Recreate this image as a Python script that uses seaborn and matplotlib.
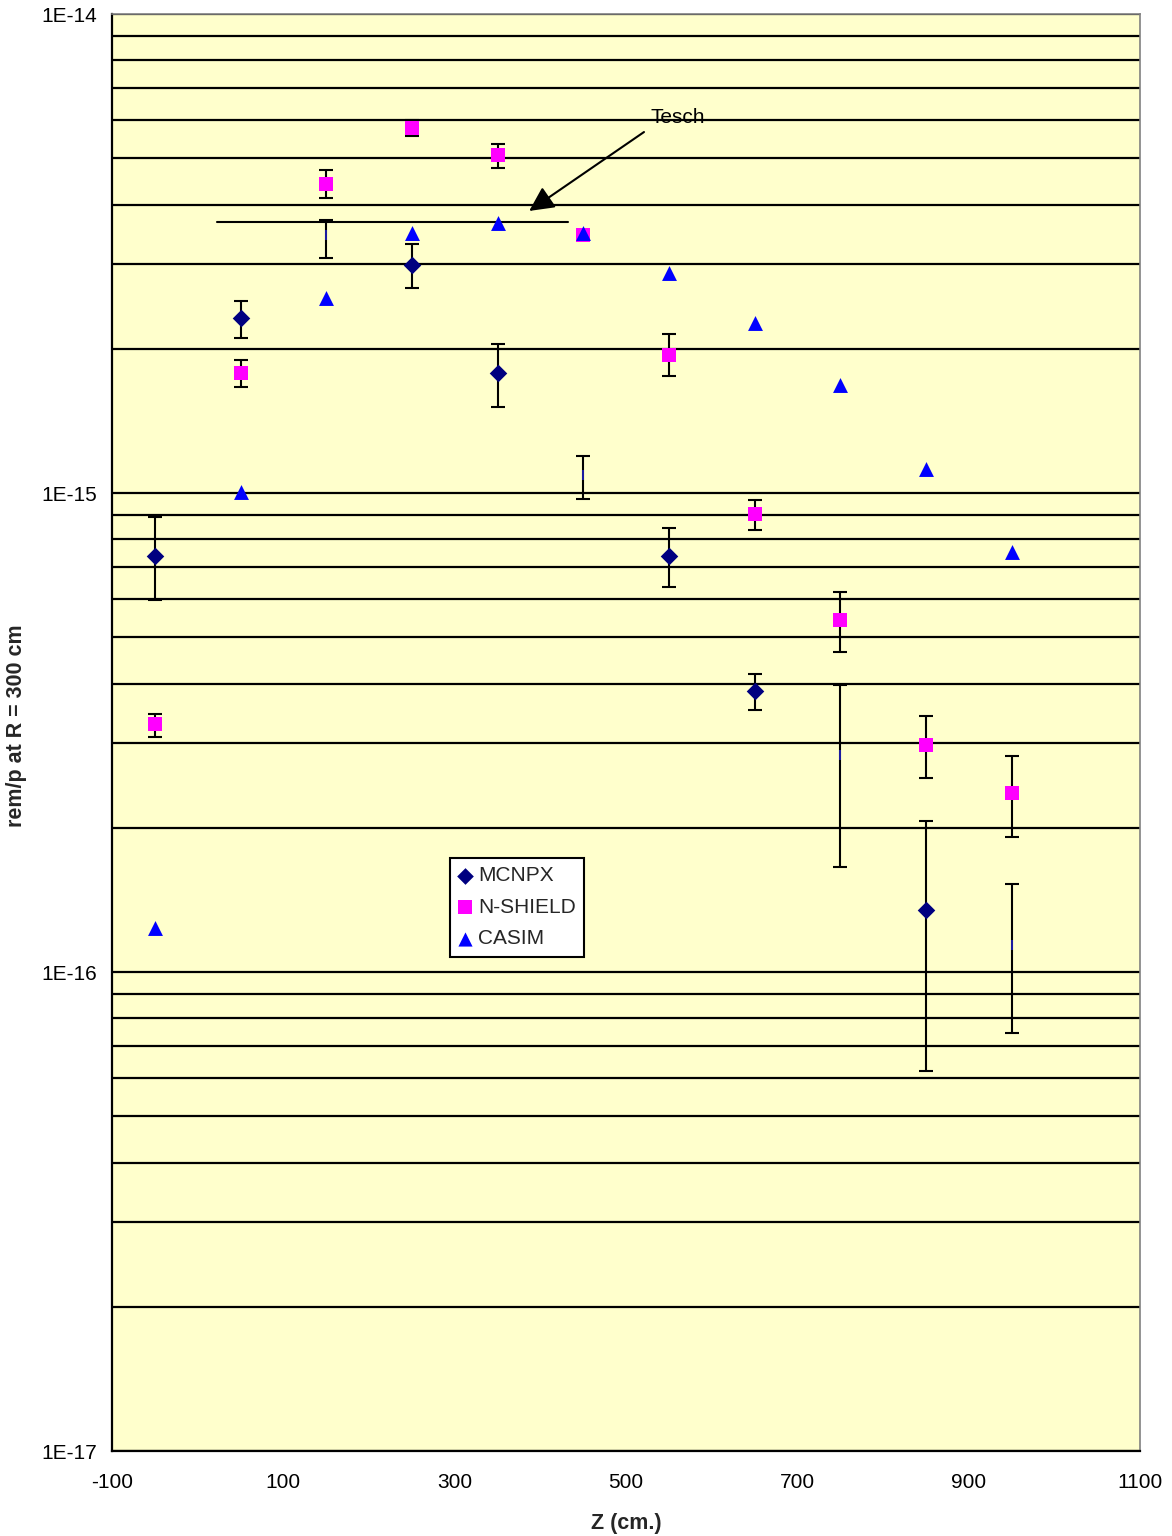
import numpy as np
import pandas as pd
import matplotlib
matplotlib.use("Agg")
import matplotlib.pyplot as plt
import seaborn as sns
from matplotlib.ticker import FixedLocator, NullFormatter, FuncFormatter

# Z positions (cm)
z = [-50, 50, 150, 250, 350, 450, 550, 650, 750, 850, 950]

# MCNPX (value, upper and lower error bar ends)
mcnpx = [7.4e-16, 2.32e-15, 3.46e-15, 2.99e-15, 1.78e-15, 1.09e-15,
         7.4e-16, 3.86e-16, 2.84e-16, 1.35e-16, 1.14e-16]
mcnpx_hi = [8.9e-16, 2.52e-15, 3.72e-15, 3.31e-15, 2.05e-15, 1.195e-15,
            8.45e-16, 4.19e-16, 3.97e-16, 2.07e-16, 1.53e-16]
mcnpx_lo = [5.98e-16, 2.11e-15, 3.09e-15, 2.68e-15, 1.51e-15, 9.7e-16,
            6.36e-16, 3.52e-16, 1.66e-16, 6.2e-17, 7.46e-17]
# points where the MCNPX diamond is not drawn (only a tiny mark shows)
mcnpx_shown = [True, True, False, True, True, False, True, True, False, True, False]

# N-SHIELD
nshield = [3.29e-16, 1.78e-15, 4.42e-15, 5.78e-15, 5.08e-15, 3.46e-15,
           1.94e-15, 9.04e-16, 5.43e-16, 2.98e-16, 2.36e-16]
nshield_hi = [3.46e-16, 1.895e-15, 4.72e-15, 6.01e-15, 5.35e-15, 3.52e-15,
              2.15e-15, 9.69e-16, 6.21e-16, 3.42e-16, 2.82e-16]
nshield_lo = [3.09e-16, 1.665e-15, 4.13e-15, 5.57e-15, 4.77e-15, 3.40e-15,
              1.755e-15, 8.39e-16, 4.66e-16, 2.545e-16, 1.91e-16]

# CASIM
casim = [1.235e-16, 1.005e-15, 2.55e-15, 3.49e-15, 3.66e-15, 3.49e-15,
         2.88e-15, 2.26e-15, 1.68e-15, 1.122e-15, 7.53e-16]

# Tesch reference line and annotation
tesch_z = [23, 432]
tesch_val = [3.68e-15, 3.68e-15]
tesch_arrow_from = (521, 5.67e-15)
tesch_arrow_to = (387, 3.88e-15)
tesch_text_pos = (529, 6.09e-15)

x_ticks = [-100, 100, 300, 500, 700, 900, 1100]
y_ticks = [1e-17, 1e-16, 1e-15, 1e-14]
y_minor = [k * 10.0 ** e for e in (-17, -16, -15) for k in range(2, 10)]

sns.set_style("white")
plt.rcParams['font.family'] = ['Liberation Sans', 'DejaVu Sans']
plt.rcParams['axes.unicode_minus'] = False

fig = plt.figure(figsize=(11.72, 15.36), dpi=100)
ax = fig.add_axes([112 / 1172, 1 - 1451 / 1536, 1028 / 1172, 1437 / 1536])
ax.set_facecolor('#FFFFCC')

ax.set_yscale('log')
ax.set_xlim(-100, 1100)
ax.set_ylim(1e-17, 1e-14)
ax.set_xticks(x_ticks)
ax.yaxis.set_major_locator(FixedLocator(y_ticks))
ax.yaxis.set_minor_locator(FixedLocator(y_minor))
ax.yaxis.set_minor_formatter(NullFormatter())
ax.yaxis.set_major_formatter(FuncFormatter(lambda v, p: f"1E{int(round(np.log10(v)))}"))

ax.set_axisbelow(True)
ax.yaxis.grid(True, which='both', color='black', linewidth=1.6)
ax.xaxis.grid(False)

ax.tick_params(axis='both', which='major', direction='out', length=4.5, width=1.5,
               color='black', labelsize=15, labelcolor='black')
ax.tick_params(axis='x', pad=11)
ax.tick_params(axis='y', pad=6)
ax.tick_params(axis='y', which='minor', length=0)

for side in ['left', 'bottom']:
    ax.spines[side].set_color('black')
    ax.spines[side].set_linewidth(1.6)
for side in ['top', 'right']:
    ax.spines[side].set_color('#808080')
    ax.spines[side].set_linewidth(1.2)

# error bars
m = np.array(mcnpx)
ax.errorbar(z, m, yerr=[m - np.array(mcnpx_lo), np.array(mcnpx_hi) - m], fmt='none',
            ecolor='black', elinewidth=1.5, capsize=5, capthick=1.5, zorder=3)
n = np.array(nshield)
ax.errorbar(z, n, yerr=[n - np.array(nshield_lo), np.array(nshield_hi) - n], fmt='none',
            ecolor='black', elinewidth=1.5, capsize=5, capthick=1.5, zorder=3)

df = pd.DataFrame({'z': z, 'mcnpx': mcnpx, 'nshield': nshield, 'casim': casim,
                   'shown': mcnpx_shown})

sns.scatterplot(data=df[df['shown']], x='z', y='mcnpx', marker='D', s=80,
                color='#000080', edgecolor='#000080', linewidth=0, label='MCNPX',
                ax=ax, zorder=4)
sns.scatterplot(data=df[~df['shown']], x='z', y='mcnpx', marker='|', s=50,
                color='#2020C0', linewidth=1.2, ax=ax, zorder=4, legend=False)
sns.scatterplot(data=df, x='z', y='nshield', marker='s', s=105,
                color='#FF00FF', edgecolor='#FF00FF', linewidth=0, label='N-SHIELD',
                ax=ax, zorder=4)
sns.scatterplot(data=df, x='z', y='casim', marker='^', s=115,
                color='#0000FF', edgecolor='#0000FF', linewidth=0, label='CASIM',
                ax=ax, zorder=5)

ax.plot(tesch_z, tesch_val, color='black', linewidth=1.5, zorder=3)
ax.annotate('', xy=tesch_arrow_to, xytext=tesch_arrow_from,
            arrowprops=dict(arrowstyle='-|>,head_length=1.5,head_width=0.75',
                            color='black', linewidth=1.5, shrinkA=0, shrinkB=0),
            zorder=6)
ax.text(tesch_text_pos[0], tesch_text_pos[1], 'Tesch', fontsize=15,
        ha='left', va='center', color='black', zorder=6)

ax.set_xlabel('Z (cm.)', fontsize=15.5, fontweight='bold')
ax.set_ylabel('rem/p at R = 300 cm', fontsize=15.5, fontweight='bold')
ax.xaxis.set_label_coords(0.5, -0.043)
ax.yaxis.set_label_coords(-0.083, 0.505)

leg = ax.legend(loc='upper left', bbox_to_anchor=(0.3288, 0.4127), borderaxespad=0,
                fontsize=15, frameon=True, fancybox=False, framealpha=1,
                handlelength=0.6, handletextpad=0.35, labelspacing=0.6,
                borderpad=0.4, markerscale=0.95)
leg.get_frame().set_edgecolor('black')
leg.get_frame().set_linewidth(1.5)
leg.get_frame().set_facecolor('white')

fig.savefig('out.png', dpi=100, facecolor='white')
